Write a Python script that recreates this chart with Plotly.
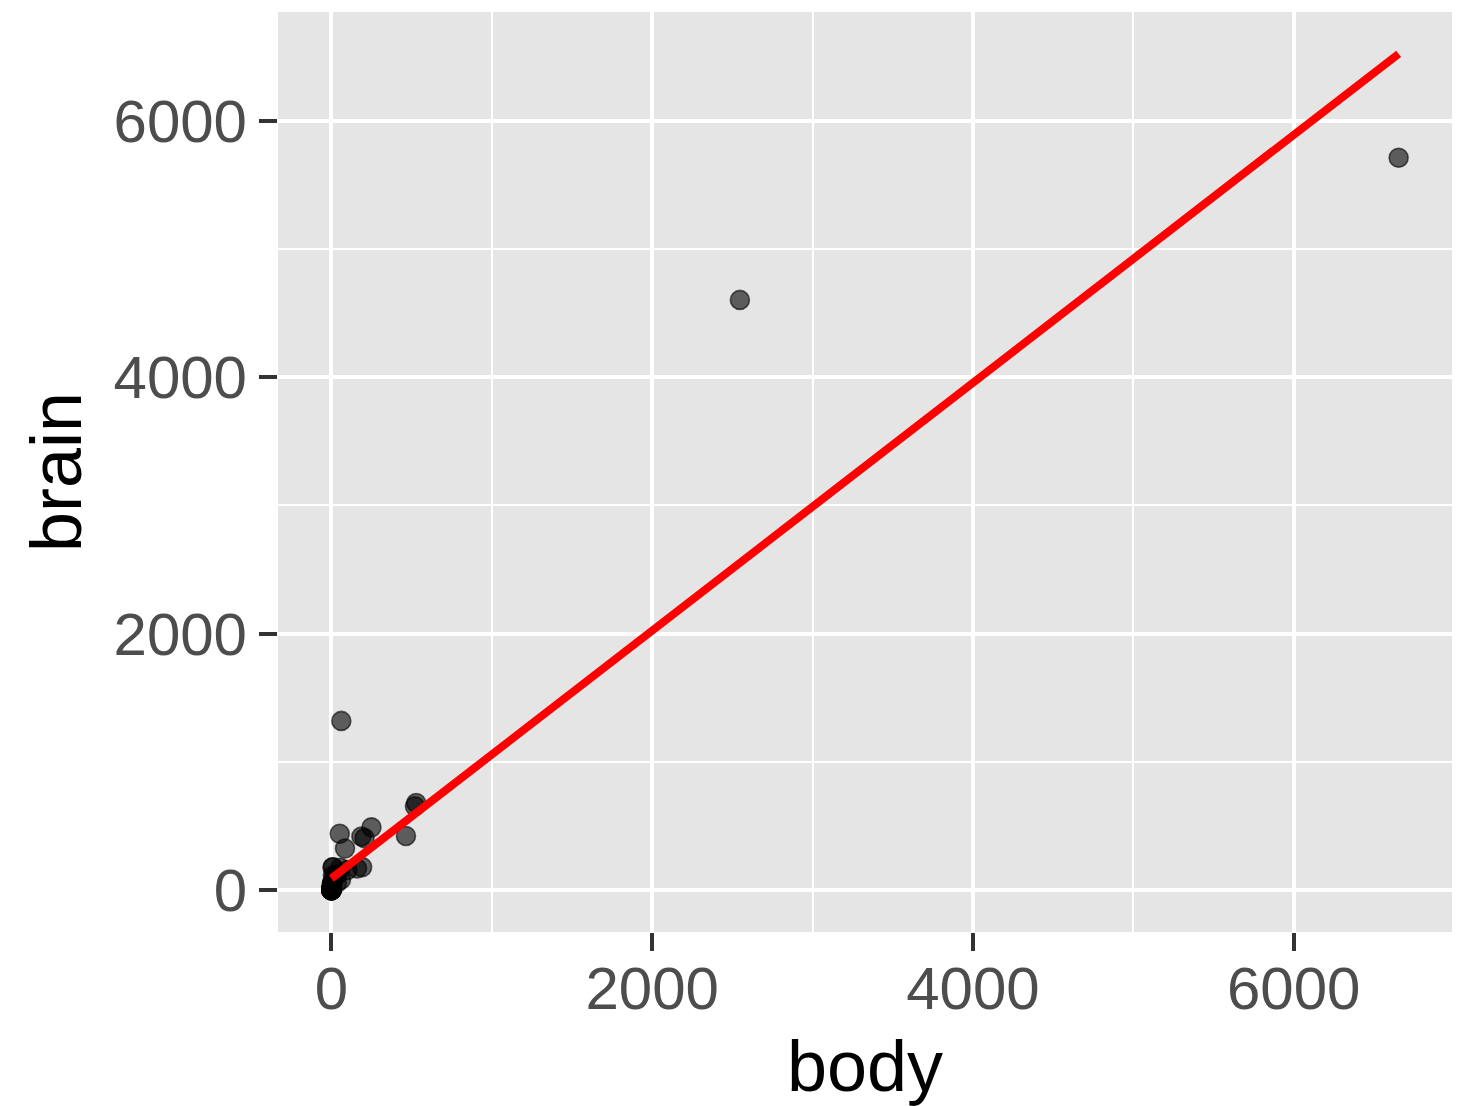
import numpy as np
import plotly.graph_objects as go

# Mammal body weight (kg) and brain weight (g)
species = [
    "Arctic fox", "Owl monkey", "Mountain beaver", "Cow", "Grey wolf", "Goat",
    "Roe deer", "Guinea pig", "Verbet", "Chinchilla", "Ground squirrel",
    "Arctic ground squirrel", "African giant pouched rat", "Lesser short-tailed shrew",
    "Star-nosed mole", "Nine-banded armadillo", "Tree hyrax", "N.A. opossum",
    "Asian elephant", "Big brown bat", "Donkey", "Horse", "European hedgehog",
    "Patas monkey", "Cat", "Galago", "Genet", "Giraffe", "Gorilla", "Grey seal",
    "Rock hyrax-a", "Human", "African elephant", "Water opossum", "Rhesus monkey",
    "Kangaroo", "Yellow-bellied marmot", "Golden hamster", "Mouse",
    "Little brown bat", "Slow loris", "Okapi", "Rabbit", "Sheep", "Jaguar",
    "Chimpanzee", "Baboon", "Desert hedgehog", "Giant armadillo", "Rock hyrax-b",
    "Raccoon", "Rat", "E. American mole", "Mole rat", "Musk shrew", "Pig",
    "Echidna", "Brazilian tapir", "Tenrec", "Phalanger", "Tree shrew", "Red fox",
]
body = [
    3.385, 0.480, 1.350, 465.0, 36.33, 27.66, 14.83, 1.04, 4.19, 0.425, 0.101,
    0.92, 1.0, 0.005, 0.06, 3.5, 2.0, 1.7, 2547.0, 0.023, 187.1, 521.0, 0.785,
    10.0, 3.3, 0.2, 1.41, 529.0, 207.0, 85.0, 0.75, 62.0, 6654.0, 3.5, 6.8,
    35.0, 4.05, 0.12, 0.023, 0.01, 1.4, 250.0, 2.5, 55.5, 100.0, 52.16, 10.55,
    0.55, 60.0, 3.6, 4.288, 0.28, 0.075, 0.122, 0.048, 192.0, 3.0, 160.0, 0.9,
    1.62, 0.104, 4.235,
]
brain = [
    44.5, 15.5, 8.1, 423.0, 119.5, 115.0, 98.2, 5.5, 58.0, 6.4, 4.0, 5.7, 6.6,
    0.14, 1.0, 10.8, 12.3, 6.3, 4603.0, 0.3, 419.0, 655.0, 3.5, 115.0, 25.6,
    5.0, 17.5, 680.0, 406.0, 325.0, 12.3, 1320.0, 5712.0, 3.9, 179.0, 56.0,
    17.0, 1.0, 0.4, 0.25, 12.5, 490.0, 12.1, 175.0, 157.0, 440.0, 179.5, 2.4,
    81.0, 21.0, 39.2, 1.9, 1.2, 3.0, 0.33, 180.0, 25.0, 169.0, 2.6, 11.4, 2.5,
    50.4,
]

x_ticks = [0, 2000, 4000, 6000]
y_ticks = [0, 2000, 4000, 6000]

# Ordinary least-squares fit of brain on body
slope, intercept = np.polyfit(body, brain, 1)
fit_x = [min(body), max(body)]
fit_y = [intercept + slope * v for v in fit_x]

font_family = "Liberation Sans, Arial, sans-serif"

fig = go.Figure()
fig.add_trace(go.Scatter(
    x=body, y=brain, mode="markers", text=species,
    marker=dict(size=19, color="rgba(0,0,0,0.6)",
                line=dict(color="rgba(0,0,0,0.6)", width=1.6)),
    showlegend=False,
))
fig.add_trace(go.Scatter(
    x=fit_x, y=fit_y, mode="lines",
    line=dict(color="#FF0000", width=8),
    showlegend=False,
))

# Panel limits follow ggplot's 5% expansion of the data/fit range
x_lo, x_hi = min(body), max(body)
x_pad = 0.05 * (x_hi - x_lo)
y_lo = min(min(brain), min(fit_y))
y_hi = max(max(brain), max(fit_y))
y_pad = 0.05 * (y_hi - y_lo)

axis_common = dict(
    showgrid=True, gridcolor="white", gridwidth=3.5,
    zeroline=False, showline=False, automargin=False,
    ticks="outside", ticklen=18, tickwidth=4, tickcolor="#333333",
    tickfont=dict(family=font_family, size=60, color="#4D4D4D"),
    minor=dict(showgrid=True, gridcolor="white", gridwidth=1.8, dtick=1000,
               tick0=0, ticks=""),
)

fig.update_xaxes(
    range=[x_lo - x_pad, x_hi + x_pad],
    tickvals=x_ticks, ticktext=[str(v) for v in x_ticks],
    ticklabelstandoff=-14,
    title=dict(text="body", font=dict(family=font_family, size=72, color="black"),
               standoff=24),
    **axis_common,
)
fig.update_yaxes(
    range=[y_lo - y_pad, y_hi + y_pad],
    tickvals=y_ticks, ticktext=[str(v) for v in y_ticks],
    title=dict(text="brain", font=dict(family=font_family, size=72, color="black"),
               standoff=8),
    **axis_common,
)

fig.update_layout(
    width=1462, height=1106,
    margin=dict(l=278, r=10, t=12, b=174),
    plot_bgcolor="#E5E5E5", paper_bgcolor="white",
)

fig.write_html("out.html")
